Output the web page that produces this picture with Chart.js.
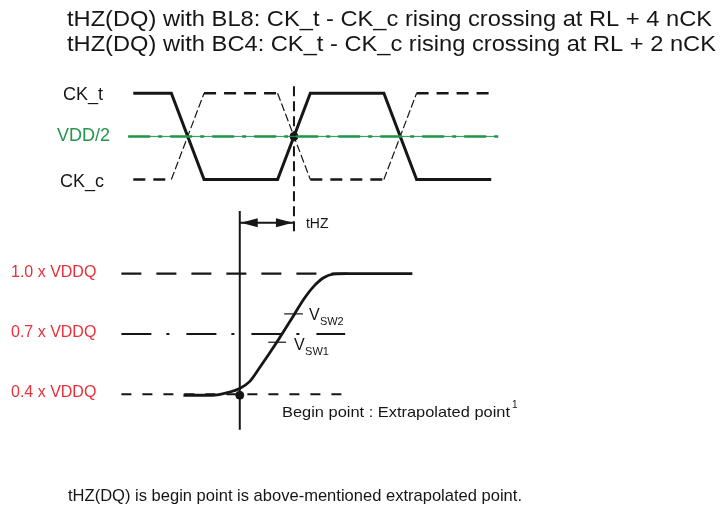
<!DOCTYPE html>
<html lang="en">
<head>
    <meta charset="UTF-8">
    <title>tHZ(DQ) timing</title>
    <script src="https://cdn.jsdelivr.net/npm/chart.js"></script>
    <style>
        body { margin: 0; background: #fff; }
        #wrap { width: 727px; height: 510px; }
    </style>
</head>
<body>
<div id="wrap"><canvas id="tzChart" width="727" height="510"></canvas></div>
<script>
    // time in tCK (0 = CK_t - CK_c rising crossing), clock level 0/1, DQ in x VDDQ
    const ckTrue = [[-0.756, 1], [-0.577, 1], [-0.423, 0], [-0.077, 0], [0.077, 1], [0.423, 1], [0.577, 0], [0.928, 0]];
    const ckComp = [[-0.756, 0], [-0.577, 0], [-0.423, 1], [-0.077, 1], [0.077, 0], [0.423, 0], [0.577, 1], [0.928, 1]];
    const vddHalf = [[-0.780, 0.5], [0.961, 0.5]];

    const levelValues = [1.0, 0.7, 0.4];
    const levelLabels = ['1.0 x VDDQ', '0.7 x VDDQ', '0.4 x VDDQ'];
    const levelStart = -0.812;
    const levelEnd = [0.251, 0.241, 0.265];

    const dqTime = [-0.520, -0.385, -0.306, -0.255, -0.209, -0.162, -0.084, 0.000, 0.046, 0.093, 0.139, 0.186, 0.251, 0.557];
    const dqLevel = [0.395, 0.395, 0.410, 0.429, 0.463, 0.532, 0.654, 0.795, 0.873, 0.937, 0.980, 0.998, 1.000, 1.000];

    const vsw2 = [[-0.046, 0.800], [0.042, 0.800]];
    const vsw1 = [[-0.121, 0.659], [-0.037, 0.659]];
    const beginPoint = [-0.255, 0.395];
    const crossPoint = [0, 0.5];
    const thzLine = [[-0.255, 1.254], [0, 1.254]];
    const refSolid = [[-0.255, 1.312], [-0.255, 0.224]];
    const refDashed = [[0, 1.08], [0, -0.65]];

    const titles = [
        'tHZ(DQ) with BL8: CK_t - CK_c rising crossing at RL + 4 nCK',
        'tHZ(DQ) with BC4: CK_t - CK_c rising crossing at RL + 2 nCK'
    ];
    const footNote = 'tHZ(DQ) is begin point is above-mentioned extrapolated point.';

    const INK = '#161616';
    const GREEN = '#22964a';
    const RED = '#e8303a';
    const FONT = '"Liberation Sans", Arial, sans-serif';

    const pts = arr => arr.map(p => ({ x: p[0], y: p[1] }));

    function lineSet(data, axis, opts) {
        return Object.assign({
            data: data,
            yAxisID: axis,
            showLine: true,
            borderColor: INK,
            borderWidth: 2.5,
            pointRadius: 0,
            fill: false
        }, opts || {});
    }

    const levelDash = [[20, 15], [30, 15, 3, 17], [10, 11]];
    const levelSets = levelValues.map((v, i) => lineSet(
        [{ x: levelStart, y: v }, { x: levelEnd[i], y: v }], 'yDq',
        { borderDash: levelDash[i], borderWidth: 2.2, borderCapStyle: 'butt' }
    ));

    const datasets = [
        lineSet(pts(vddHalf), 'yCk', { borderColor: GREEN, borderWidth: 1 }),
        lineSet(pts(vddHalf), 'yCk', { borderColor: GREEN, borderWidth: 2.5, borderDash: [22, 8, 4, 8] }),
        lineSet(pts(ckTrue), 'yCk', { borderWidth: 3 }),
        lineSet(pts(ckComp), 'yCk', {
            borderWidth: 2.5,
            borderDash: [12, 8],
            segment: {
                borderWidth: c => c.p0.parsed.y !== c.p1.parsed.y ? 1.2 : undefined,
                borderDash: c => c.p0.parsed.y !== c.p1.parsed.y ? [8, 3] : undefined
            }
        }),
        lineSet(pts(refDashed), 'yCk', { borderWidth: 2, borderDash: [10, 5] }),
        ...levelSets,
        lineSet(dqTime.map((t, i) => ({ x: t, y: dqLevel[i] })), 'yDq', { borderWidth: 2.8, cubicInterpolationMode: 'monotone' }),
        lineSet(pts(refSolid), 'yDq', { borderWidth: 2 }),
        lineSet(pts(thzLine), 'yDq', { borderWidth: 2 }),
        lineSet(pts(vsw2), 'yDq', { borderWidth: 1.2 }),
        lineSet(pts(vsw1), 'yDq', { borderWidth: 1.2 }),
        { data: pts([beginPoint]), yAxisID: 'yDq', pointRadius: 4, backgroundColor: INK, borderColor: INK },
        { data: pts([crossPoint]), yAxisID: 'yCk', pointRadius: 4, backgroundColor: INK, borderColor: INK }
    ];

    function fitText(ctx, text, x, y, width) {
        const w = ctx.measureText(text).width;
        ctx.save();
        ctx.translate(x, y);
        ctx.scale(width ? width / w : 1, 1);
        ctx.fillText(text, 0, 0);
        ctx.restore();
    }

    const labelPlugin = {
        id: 'labels',
        afterDatasetsDraw(chart) {
            const ctx = chart.ctx;
            const sx = chart.scales.x, yc = chart.scales.yCk, yd = chart.scales.yDq;
            ctx.save();
            ctx.textBaseline = 'alphabetic';
            ctx.textAlign = 'left';

            // arrow heads for tHZ
            const ay = yd.getPixelForValue(thzLine[0][1]);
            const ax1 = sx.getPixelForValue(thzLine[0][0]);
            const ax2 = sx.getPixelForValue(thzLine[1][0]);
            ctx.fillStyle = INK;
            ctx.beginPath();
            ctx.moveTo(ax1 + 1, ay); ctx.lineTo(ax1 + 18, ay - 4.5); ctx.lineTo(ax1 + 18, ay + 4.5);
            ctx.closePath(); ctx.fill();
            ctx.beginPath();
            ctx.moveTo(ax2 - 1, ay); ctx.lineTo(ax2 - 18, ay - 4.5); ctx.lineTo(ax2 - 18, ay + 4.5);
            ctx.closePath(); ctx.fill();

            // titles
            ctx.fillStyle = INK;
            ctx.font = '22px ' + FONT;
            const tw = 645 / ctx.measureText(titles[0]).width;
            titles.forEach((t, i) => fitText(ctx, t, 67, 26 + i * 25, ctx.measureText(t).width * tw));

            // clock labels
            ctx.font = '18px ' + FONT;
            ctx.fillText('CK_t', 63, yc.getPixelForValue(1) + 7);
            ctx.fillText('CK_c', 60, yc.getPixelForValue(0) + 7);
            ctx.fillStyle = GREEN;
            ctx.fillText('VDD/2', 57, yc.getPixelForValue(0.5) + 5);

            // level labels
            ctx.fillStyle = RED;
            ctx.font = '16px ' + FONT;
            levelValues.forEach((v, i) => ctx.fillText(levelLabels[i], 11, yd.getPixelForValue(v) + 3));

            // tHZ label
            ctx.fillStyle = INK;
            ctx.font = '14px ' + FONT;
            ctx.fillText('tHZ', ax2 + 12, ay + 5);

            // VSW labels
            const v2x = sx.getPixelForValue(vsw2[1][0]), v2y = yd.getPixelForValue(vsw2[1][1]);
            const v1x = sx.getPixelForValue(vsw1[1][0]), v1y = yd.getPixelForValue(vsw1[1][1]);
            ctx.font = '16px ' + FONT;
            ctx.fillText('V', v2x + 6, v2y + 6);
            ctx.fillText('V', v1x + 8, v1y + 8);
            ctx.font = '11px ' + FONT;
            ctx.fillText('SW2', v2x + 17, v2y + 11);
            ctx.fillText('SW1', v1x + 19, v1y + 13);

            // begin point note
            ctx.font = '15px ' + FONT;
            fitText(ctx, 'Begin point : Extrapolated point', 282, 417, 228);
            ctx.font = '10px ' + FONT;
            ctx.fillText('1', 512, 408);

            // foot note
            ctx.font = '17px ' + FONT;
            fitText(ctx, footNote, 68, 501, 454);
            ctx.restore();
        }
    };

    new Chart(document.getElementById('tzChart'), {
        type: 'scatter',
        data: { datasets: datasets },
        options: {
            responsive: false,
            animation: false,
            events: [],
            layout: { padding: 0 },
            plugins: { legend: { display: false }, tooltip: { enabled: false } },
            scales: {
                x: { type: 'linear', display: false, min: -1.3596, max: 2.0139 },
                yCk: { type: 'linear', display: false, min: -3.773, max: 2.023 },
                yDq: { type: 'linear', display: false, min: -0.151, max: 2.337 }
            }
        },
        plugins: [labelPlugin]
    });
</script>
</body>
</html>
